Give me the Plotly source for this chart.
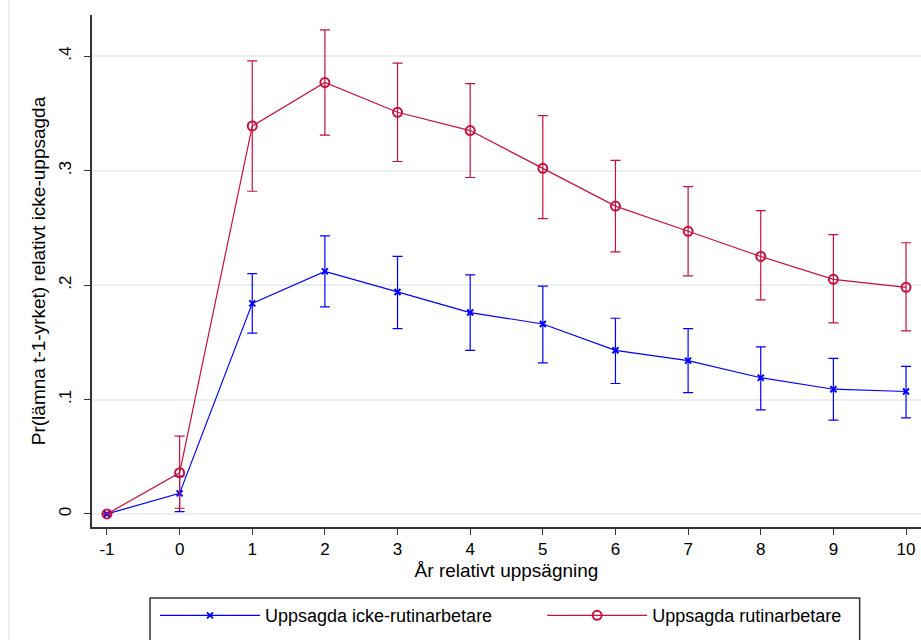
import plotly.graph_objects as go

# Years relative to layoff
years = [-1, 0, 1, 2, 3, 4, 5, 6, 7, 8, 9, 10]
year_labels = ["-1", "0", "1", "2", "3", "4", "5", "6", "7", "8", "9", "10"]

# Laid-off non-routine workers: estimate and 95% CI
icke_est = [0.0, 0.018, 0.184, 0.212, 0.194, 0.176, 0.166, 0.143, 0.134, 0.119, 0.109, 0.107]
icke_lo = [0.0, 0.002, 0.158, 0.181, 0.162, 0.143, 0.132, 0.114, 0.106, 0.091, 0.082, 0.084]
icke_hi = [0.0, 0.033, 0.210, 0.243, 0.225, 0.209, 0.199, 0.171, 0.162, 0.146, 0.136, 0.129]

# Laid-off routine workers: estimate and 95% CI
rutin_est = [0.0, 0.036, 0.339, 0.377, 0.351, 0.335, 0.302, 0.269, 0.247, 0.225, 0.205, 0.198]
rutin_lo = [0.0, 0.005, 0.282, 0.331, 0.308, 0.294, 0.258, 0.229, 0.208, 0.187, 0.167, 0.160]
rutin_hi = [0.0, 0.068, 0.396, 0.423, 0.394, 0.376, 0.348, 0.309, 0.286, 0.265, 0.244, 0.237]

y_ticks = [0, 0.1, 0.2, 0.3, 0.4]
y_ticktext = ["0", ".1", ".2", ".3", ".4"]

BLUE = "#0000FF"
RED = "#C8103C"


def ci_arrays(est, lo, hi, skip_first=True):
    plus = [h - e for e, h in zip(est, hi)]
    minus = [e - l for e, l in zip(est, lo)]
    if skip_first:
        plus[0] = None
        minus[0] = None
    return plus, minus


fig = go.Figure()

series = [
    ("Uppsagda icke-rutinarbetare", icke_est, icke_lo, icke_hi, BLUE, "x-thin-open", 6, "legend"),
    ("Uppsagda rutinarbetare", rutin_est, rutin_lo, rutin_hi, RED, "circle-open", 9, "legend2"),
]
for name, est, lo, hi, color, symbol, msize, leg in series:
    plus, minus = ci_arrays(est, lo, hi)
    fig.add_trace(go.Scatter(
        x=years, y=est, name=name, legend=leg,
        mode="lines+markers",
        line=dict(color=color, width=1.2),
        marker=dict(symbol=symbol, size=msize, color=color,
                    line=dict(color=color, width=2)),
        error_y=dict(type="data", symmetric=False, array=plus, arrayminus=minus,
                     color=color, thickness=1.2, width=5),
    ))

legend_common = dict(
    orientation="h", xanchor="left", y=-0.137, yanchor="top",
    bgcolor="rgba(0,0,0,0)", borderwidth=0, font=dict(size=18), itemwidth=100,
)

fig.update_layout(
    width=921, height=640,
    margin=dict(l=92, r=0, t=15, b=113, autoexpand=False),
    paper_bgcolor="white", plot_bgcolor="white",
    font=dict(family="Liberation Sans, Arial, sans-serif", size=16, color="black"),
    showlegend=True,
    legend=dict(x=0.076, **legend_common),
    legend2=dict(x=0.543, **legend_common),
    xaxis=dict(
        range=[-1.206, 10.206], tickvals=years, ticktext=year_labels,
        ticks="outside", ticklen=6, tickfont=dict(size=17),
        tickcolor="#333", showline=True, linecolor="#333", linewidth=1.5,
        showgrid=False, zeroline=False,
        title=dict(text="År relativt uppsägning", standoff=6),
    ),
    yaxis=dict(
        range=[-0.0114, 0.436], tickvals=y_ticks, ticktext=y_ticktext,
        tickangle=-90, ticks="outside", ticklen=6, tickcolor="#333",
        tickfont=dict(size=17), ticklabelstandoff=6,
        showline=True, linecolor="#333", linewidth=1.5,
        showgrid=True, gridcolor="#EAF0F2", gridwidth=1.5, zeroline=False,
        title=dict(text="Pr(lämna t-1-yrket) relativt icke-uppsagda", standoff=6),
    ),
    shapes=[
        # frame around both legend entries
        dict(type="rect", xref="paper", yref="paper",
             x0=0.070, x1=0.926, y0=-0.1387, y1=-0.24,
             line=dict(color="#333", width=1.5), fillcolor="rgba(0,0,0,0)"),
        # faint outer graph-region edge on the left
        dict(type="line", xref="paper", yref="paper",
             x0=-0.100, x1=-0.100, y0=-0.24, y1=1.03,
             line=dict(color="#E6ECEE", width=1.5)),
    ],
)

fig.write_html("out.html")
